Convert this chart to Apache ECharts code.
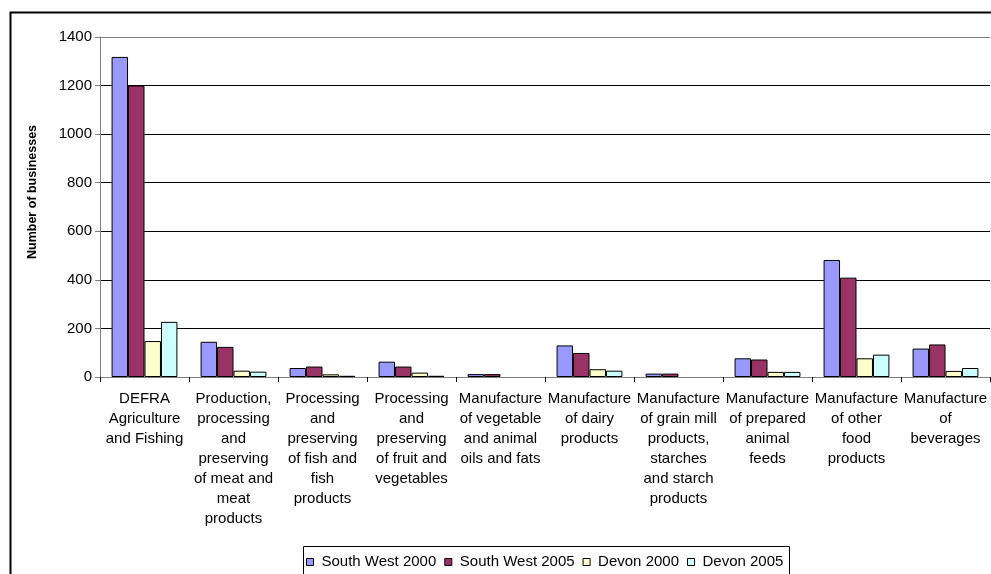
<!DOCTYPE html>
<html>
<head>
<meta charset="utf-8">
<title>Number of businesses by sector</title>
<script src="https://cdn.jsdelivr.net/npm/echarts@6/dist/echarts.min.js"></script>
<style>
  html, body { margin: 0; padding: 0; background: #fff; }
  #chart { width: 991px; height: 574px; }
</style>
</head>
<body>
<div id="chart"></div>
<script>
// Sector categories (line breaks as shown under the axis)
const categories = [
  'DEFRA\nAgriculture\nand Fishing',
  'Production,\nprocessing\nand\npreserving\nof meat and\nmeat\nproducts',
  'Processing\nand\npreserving\nof fish and\nfish\nproducts',
  'Processing\nand\npreserving\nof fruit and\nvegetables',
  'Manufacture\nof vegetable\nand animal\noils and fats',
  'Manufacture\nof dairy\nproducts',
  'Manufacture\nof grain mill\nproducts,\nstarches\nand starch\nproducts',
  'Manufacture\nof prepared\nanimal\nfeeds',
  'Manufacture\nof other\nfood\nproducts',
  'Manufacture\nof\nbeverages'
];

// Number of businesses per series
const southWest2000 = [1318, 145, 37, 63, 12, 130, 14, 77, 482, 117];
const southWest2005 = [1200, 124, 43, 43, 12, 99, 14, 72, 409, 134];
const devon2000     = [148, 26, 11, 18, null, 32, null, 21, 77, 25];
const devon2005     = [227, 22, 5, 5, null, 26, null, 21, 92, 37];

const yTicks = [0, 200, 400, 600, 800, 1000, 1200, 1400];

const seriesNames = ['South West 2000', 'South West 2005', 'Devon 2000', 'Devon 2005'];
const seriesColors = ['#9999FF', '#993366', '#FFFFCC', '#CCFFFF'];
const seriesData = [southWest2000, southWest2005, devon2000, devon2005];

const FONT = '"Liberation Sans", Arial, sans-serif';

const chart = echarts.init(document.getElementById('chart'), null, { renderer: 'canvas' });

chart.setOption({
  backgroundColor: '#ffffff',
  animation: false,
  textStyle: { fontFamily: FONT, color: '#000' },
  grid: { left: 100, right: 1, top: 37, bottom: 197 },
  legend: {
    left: 306,
    top: 554,
    data: seriesNames,
    icon: 'rect',
    itemWidth: 7,
    itemHeight: 7,
    itemGap: 8,
    padding: 0,
    itemStyle: { borderColor: '#000', borderWidth: 1 },
    textStyle: {
      fontFamily: FONT, fontSize: 15, lineHeight: 16, color: '#000',
      padding: [0, 0, 0, 3]
    }
  },
  xAxis: {
    type: 'category',
    data: categories,
    axisLine: { lineStyle: { color: '#808080', width: 1 } },
    axisTick: { show: true, alignWithLabel: false, length: 5, lineStyle: { color: '#000' } },
    axisLabel: {
      interval: 0,
      margin: 12,
      fontFamily: FONT,
      fontSize: 15,
      lineHeight: 20,
      color: '#000',
      align: 'center'
    },
    splitLine: { show: false }
  },
  yAxis: {
    type: 'value',
    min: yTicks[0],
    max: yTicks[yTicks.length - 1],
    interval: 200,
    axisLine: { show: true, lineStyle: { color: '#808080', width: 1 } },
    axisTick: { show: true, inside: false, length: 5, lineStyle: { color: '#808080' } },
    axisLabel: {
      fontFamily: FONT, fontSize: 15, color: '#000', margin: 8,
      formatter: (v) => String(v)
    },
    splitLine: {
      show: true,
      lineStyle: {
        color: ['#808080', '#000', '#000', '#000', '#000', '#000', '#000', '#808080'],
        width: 1
      }
    }
  },
  graphic: [
    {
      // outer chart frame
      type: 'rect',
      left: 8,
      top: 10,
      z: -1,
      shape: { width: 1100, height: 700 },
      style: { fill: 'none', stroke: '#000', lineWidth: 2 }
    },
    {
      // legend box
      type: 'rect',
      x: 303.5,
      y: 546.5,
      z: -1,
      shape: { width: 486, height: 60 },
      style: { fill: 'none', stroke: '#000', lineWidth: 1 }
    },
    {
      type: 'text',
      x: 33,
      y: 192,
      rotation: Math.PI / 2,
      style: {
        text: 'Number of businesses',
        font: 'bold 12.5px ' + FONT,
        fill: '#000',
        align: 'center',
        verticalAlign: 'middle'
      }
    }
  ],
  series: seriesNames.map((name, i) => ({
    name: name,
    type: 'bar',
    data: seriesData[i],
    barGap: '0%',
    barCategoryGap: '26%',
    itemStyle: { color: seriesColors[i], borderColor: '#000', borderWidth: 1 }
  }))
});
</script>
</body>
</html>
